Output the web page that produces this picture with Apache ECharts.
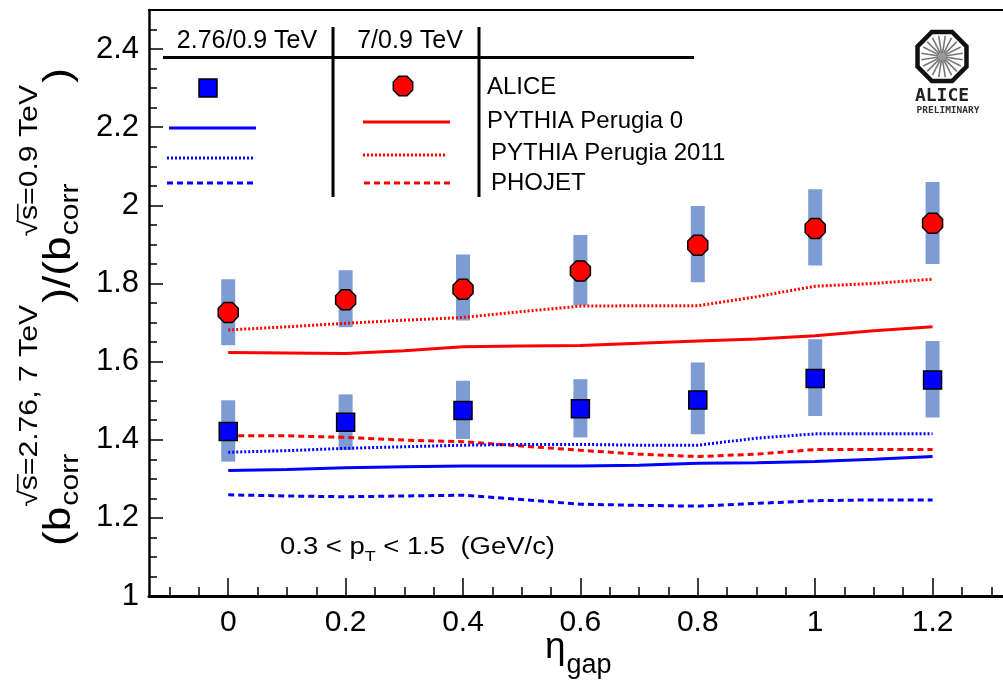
<!DOCTYPE html>
<html><head><meta charset="utf-8">
<script src="https://cdn.jsdelivr.net/npm/echarts@6/dist/echarts.min.js"></script>
<style>html,body{margin:0;padding:0;background:#fff}#c{width:1003px;height:681px}</style>
</head><body><div id="c"></div>
<script>
// ---------- data ----------
const etaGap = [0, 0.2, 0.4, 0.6, 0.8, 1.0, 1.2];
const alice7 = [1.726, 1.758, 1.785, 1.832, 1.898, 1.941, 1.954];
const alice7SysLow = [1.642, 1.688, 1.705, 1.744, 1.803, 1.846, 1.850];
const alice7SysHigh = [1.811, 1.834, 1.874, 1.924, 1.998, 2.041, 2.060];
const alice276 = [1.421, 1.445, 1.475, 1.479, 1.502, 1.557, 1.553];
const alice276SysLow = [1.344, 1.374, 1.402, 1.406, 1.414, 1.461, 1.457];
const alice276SysHigh = [1.501, 1.516, 1.551, 1.555, 1.598, 1.657, 1.653];
const modelEta = [0, 0.1, 0.2, 0.3, 0.4, 0.5, 0.6, 0.7, 0.8, 0.9, 1.0, 1.1, 1.2];
const perugia0_7 = [1.623, 1.622, 1.621, 1.628, 1.638, 1.640, 1.641, 1.647, 1.653, 1.658, 1.666, 1.679, 1.689];
const perugia2011_7 = [1.681, 1.689, 1.698, 1.706, 1.713, 1.728, 1.742, 1.743, 1.743, 1.766, 1.793, 1.800, 1.811];
const phojet_7 = [1.410, 1.410, 1.406, 1.399, 1.395, 1.384, 1.373, 1.363, 1.357, 1.363, 1.375, 1.375, 1.375];
const perugia0_276 = [1.321, 1.324, 1.328, 1.331, 1.333, 1.333, 1.333, 1.335, 1.340, 1.341, 1.344, 1.350, 1.357];
const perugia2011_276 = [1.368, 1.372, 1.378, 1.382, 1.386, 1.388, 1.388, 1.386, 1.386, 1.404, 1.415, 1.415, 1.415];
const phojet_276 = [1.259, 1.256, 1.254, 1.256, 1.258, 1.247, 1.235, 1.232, 1.230, 1.237, 1.244, 1.246, 1.246];
const xMajorTicks = [0, 0.2, 0.4, 0.6, 0.8, 1, 1.2];
const xMinorTicks = [-0.1, -0.05, 0.05, 0.1, 0.15, 0.25, 0.3, 0.35, 0.45, 0.5, 0.55, 0.65, 0.7, 0.75, 0.85, 0.9, 0.95, 1.05, 1.1, 1.15, 1.25, 1.3];
const legendHeaders = ['2.76/0.9 TeV', '7/0.9 TeV'];
const legendLabels = ['ALICE', 'PYTHIA Perugia 0', 'PYTHIA Perugia 2011', 'PHOJET'];

// ---------- helpers ----------
const FONT = 'Liberation Sans';
const mctx = document.createElement('canvas').getContext('2d');
function measure(t, size, weight, fam) {
  mctx.font = (weight || 'normal') + ' ' + size + 'px "' + (fam || FONT) + '"';
  return mctx.measureText(t).width;
}
function txt(t, x, y, size, extra) {
  const s = Object.assign({text: t, fontSize: size, fontFamily: FONT, fill: '#000', align: 'left', verticalAlign: 'middle'}, extra || {});
  return {type: 'text', x: x, y: y, style: s};
}
const zip = (xs, ys) => xs.map((x, i) => [x, ys[i]]);
const boxes = (lo, hi) => etaGap.map((x, i) => [x, lo[i], hi[i]]);
const octagon = 'path://M96.2,69.1 L69.1,96.2 L30.9,96.2 L3.8,69.1 L3.8,30.9 L30.9,3.8 L69.1,3.8 L96.2,30.9 Z';
function octPoints(cx, cy, r) {
  const p = [];
  for (let k = 0; k < 8; k++) { const a = Math.PI / 8 + k * Math.PI / 4; p.push([cx + r * Math.cos(a), cy + r * Math.sin(a)]); }
  return p;
}

// ---------- y-axis title (rotated) ----------
const FM = 38, FS = 26, mainY = 60, subY = 71, supY = 30;
const yt = [];
let cur = 0;
function scriptPair(sub, sup) {
  yt.push(txt(sub, cur + 1, subY, FS));
  yt.push(txt(sup, cur, supY, FS));
  const w1 = measure('\u221A', FS), w2 = measure('\u221As', FS);
  yt.push({type: 'line', shape: {x1: cur + w1 - 1, y1: supY - FS * 0.47, x2: cur + w2 + 1, y2: supY - FS * 0.47}, style: {stroke: '#000', lineWidth: 1.5}});
  cur += Math.max(measure(sub, FS), measure(sup, FS)) + 2;
}
yt.push(txt('(b', cur, mainY, FM)); cur += measure('(b', FM);
scriptPair('corr', '\u221As=2.76, 7 TeV');
yt.push(txt(')/(b', cur, mainY, FM)); cur += measure(')/(b', FM);
scriptPair('corr', '\u221As=0.9 TeV');
yt.push(txt(')', cur, mainY, FM)); cur += measure(')', FM);
const yTitleScale = 478 / cur;

// ---------- x-axis title ----------
const etaW = measure('\u03B7', 37);
const xTitle = [txt('\u03B7', 545, 648, 37), txt('gap', 545 + etaW + 1, 666, 27)];

// ---------- pT text ----------
const ptParts = [['0.3 < p', 23, 0], ['T', 15, 9], [' < 1.5  (GeV/c)', 23, 0]];
let pc = 0; const ptEls = [];
ptParts.forEach(p => { ptEls.push(txt(p[0], pc, p[2], p[1])); pc += measure(p[0], p[1]); });
const ptScale = 275 / pc;

// ---------- legend ----------
const legend = [
  {type: 'line', shape: {x1: 163, y1: 57.5, x2: 694, y2: 57.5}, style: {stroke: '#000', lineWidth: 3}},
  {type: 'line', shape: {x1: 333, y1: 27, x2: 333, y2: 197}, style: {stroke: '#000', lineWidth: 3}},
  {type: 'line', shape: {x1: 479, y1: 27, x2: 479, y2: 197}, style: {stroke: '#000', lineWidth: 3}},
  txt(legendHeaders[0], 247, 41, 25, {align: 'center'}),
  txt(legendHeaders[1], 410, 41, 25, {align: 'center'}),
  {type: 'rect', shape: {x: 199, y: 79, width: 18, height: 18}, style: {fill: '#0000ff', stroke: '#000', lineWidth: 1.5}},
  {type: 'polygon', shape: {points: octPoints(403, 86, 10.5)}, style: {fill: '#ff0000', stroke: '#000', lineWidth: 1.5}},
  {type: 'line', shape: {x1: 169, y1: 128, x2: 256, y2: 128}, style: {stroke: '#0000ff', lineWidth: 3}},
  {type: 'line', shape: {x1: 363, y1: 122, x2: 450, y2: 122}, style: {stroke: '#ff0000', lineWidth: 3}},
  {type: 'line', shape: {x1: 167, y1: 158, x2: 253, y2: 158}, style: {stroke: '#0000ff', lineWidth: 3, lineDash: [2, 2]}},
  {type: 'line', shape: {x1: 363, y1: 155, x2: 447, y2: 155}, style: {stroke: '#ff0000', lineWidth: 3, lineDash: [2, 2]}},
  {type: 'line', shape: {x1: 167, y1: 183, x2: 255, y2: 183}, style: {stroke: '#0000ff', lineWidth: 3, lineDash: [6, 4]}},
  {type: 'line', shape: {x1: 364, y1: 183, x2: 452, y2: 183}, style: {stroke: '#ff0000', lineWidth: 3, lineDash: [6, 4]}},
  txt(legendLabels[0], 487, 87, 24),
  txt(legendLabels[1], 487, 121, 24),
  txt(legendLabels[2], 491, 153, 24),
  txt(legendLabels[3], 491, 183, 24)
];

// ---------- ALICE logo ----------
const logo = [];
const lcx = 942, lcy = 56.5;
for (let k = 0; k < 20; k++) {
  const a = k * Math.PI / 10 + Math.PI / 20;
  logo.push({type: 'line', shape: {x1: lcx + 3 * Math.cos(a), y1: lcy + 3 * Math.sin(a), x2: lcx + 21 * Math.cos(a), y2: lcy + 21 * Math.sin(a)}, style: {stroke: '#777', lineWidth: 1.6}});
}
logo.push({type: 'circle', shape: {cx: lcx, cy: lcy, r: 4}, style: {fill: '#999'}});
logo.push({type: 'polygon', shape: {points: octPoints(lcx, lcy, 26.5)}, style: {fill: 'none', stroke: '#111', lineWidth: 4.5}});
logo.push(txt('ALICE', lcx, 96, 18, {align: 'center', fontFamily: 'DejaVu Sans Mono', fontWeight: 'bold', fill: '#222'}));
logo.push(txt('PRELIMINARY', lcx + 6, 110.5, 9.5, {align: 'center', fontFamily: 'DejaVu Sans Mono', fontWeight: 'bold', fill: '#333'}));

// ---------- chart ----------
const chart = echarts.init(document.getElementById('c'), null, {renderer: 'canvas'});
const XMIN = -0.135, XMAX = 1.32;
const boxRender = (params, api) => {
  const x = api.value(0), lo = api.value(1), hi = api.value(2);
  const p1 = api.coord([x, hi]), p2 = api.coord([x, lo]);
  return {type: 'rect', shape: {x: p1[0] - 7, y: p1[1], width: 14, height: p2[1] - p1[1]}, style: {fill: '#7d9cd3'}};
};
const lineSeries = (name, data, color, type, width) => ({
  name, type: 'line', xAxisIndex: 0, data: zip(modelEta, data), symbol: 'none', smooth: false,
  lineStyle: {color, width, type}, z: 3, silent: true
});
chart.setOption({
  animation: false,
  backgroundColor: '#fff',
  grid: {left: 149, right: 0, top: 10, bottom: 85, containLabel: false},
  xAxis: [
    {type: 'value', min: XMIN, max: XMAX, position: 'bottom',
     axisLine: {onZero: false, lineStyle: {color: '#000', width: 3}},
     axisTick: {inside: true, length: 18, customValues: xMajorTicks, lineStyle: {color: '#000', width: 1.5}},
     axisLabel: {customValues: xMajorTicks, fontSize: 30, fontFamily: FONT, color: '#000', margin: 12, formatter: v => String(v)},
     splitLine: {show: false}},
    {type: 'value', min: XMIN, max: XMAX, position: 'bottom',
     axisLine: {show: false},
     axisTick: {inside: true, length: 9, customValues: xMinorTicks, lineStyle: {color: '#000', width: 1.5}},
     axisLabel: {show: false}, splitLine: {show: false}},
    {type: 'value', min: XMIN, max: XMAX, position: 'top',
     axisLine: {onZero: false, lineStyle: {color: '#000', width: 2}},
     axisTick: {show: false}, axisLabel: {show: false}, splitLine: {show: false}}
  ],
  yAxis: {type: 'value', min: 1, max: 2.5, interval: 0.2,
    axisLine: {onZero: false, lineStyle: {color: '#000', width: 2.5}},
    axisTick: {inside: true, length: 14, lineStyle: {color: '#000', width: 1.5}},
    minorTick: {show: true, splitNumber: 4, length: 8, lineStyle: {color: '#000', width: 1.5}},
    axisLabel: {showMaxLabel: false, fontSize: 31, fontFamily: FONT, color: '#000', margin: 10},
    splitLine: {show: false}, minorSplitLine: {show: false}},
  series: [
    {type: 'custom', name: 'sys7', renderItem: boxRender, data: boxes(alice7SysLow, alice7SysHigh), encode: {x: 0, y: [1, 2]}, z: 1, silent: true},
    {type: 'custom', name: 'sys276', renderItem: boxRender, data: boxes(alice276SysLow, alice276SysHigh), encode: {x: 0, y: [1, 2]}, z: 1, silent: true},
    lineSeries('PYTHIA Perugia 0 7', perugia0_7, '#ff0000', 'solid', 3),
    lineSeries('PYTHIA Perugia 2011 7', perugia2011_7, '#ff0000', [2, 2], 3),
    lineSeries('PHOJET 7', phojet_7, '#ff0000', [6, 4], 3),
    lineSeries('PYTHIA Perugia 0 2.76', perugia0_276, '#0000ff', 'solid', 3),
    lineSeries('PYTHIA Perugia 2011 2.76', perugia2011_276, '#0000ff', [2, 2], 3),
    lineSeries('PHOJET 2.76', phojet_276, '#0000ff', [6, 4], 3),
    {type: 'scatter', name: 'ALICE 7/0.9', data: zip(etaGap, alice7), symbol: octagon, symbolSize: 20,
     itemStyle: {color: '#ff0000', borderColor: '#000', borderWidth: 1.5, opacity: 1}, z: 5, silent: true},
    {type: 'scatter', name: 'ALICE 2.76/0.9', data: zip(etaGap, alice276), symbol: 'rect', symbolSize: 18,
     itemStyle: {color: '#0000ff', borderColor: '#000', borderWidth: 1.5, opacity: 1}, z: 5, silent: true}
  ],
  graphic: [
    {type: 'group', x: 0, y: 546, rotation: Math.PI / 2, scaleX: yTitleScale, children: yt},
    {type: 'group', x: 0, y: 0, children: xTitle},
    {type: 'group', x: 280, y: 548, scaleX: ptScale, children: ptEls},
    {type: 'group', x: 0, y: 0, children: legend},
    {type: 'group', x: 0, y: 0, children: logo}
  ]
});
</script></body></html>
